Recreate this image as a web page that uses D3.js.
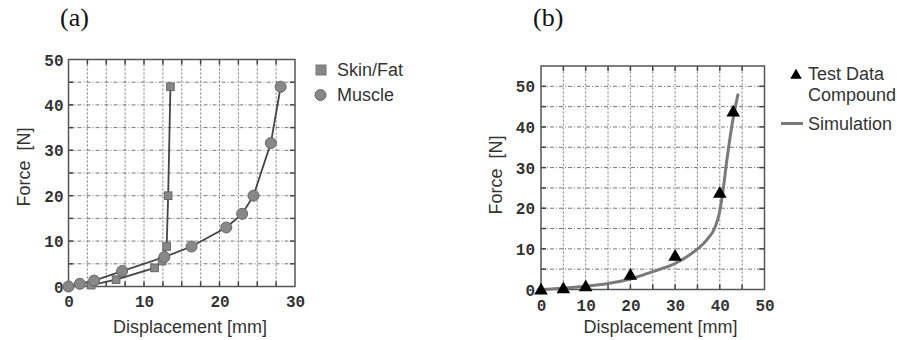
<!DOCTYPE html>
<html><head><meta charset="utf-8">
<script src="https://cdn.jsdelivr.net/npm/d3@7"></script>
<style>body{margin:0;background:#fff}svg{display:block}</style>
</head><body>
<svg id="c" width="897" height="340"></svg>
<script>
// Panel (a) data
const skinFat = [[3.0,0.3],[6.3,1.5],[11.4,4.1],[12.4,5.6],[13.0,8.8],[13.2,20],[13.5,44]];
const muscle = [[0,0],[1.5,0.6],[3.4,1.3],[7.1,3.4],[12.7,6.5],[16.3,8.8],[20.9,13],[23.0,16],[24.5,20],[26.8,31.6],[28.1,44]];
const aXTicks = [0,10,20,30];
const aYTicks = [0,10,20,30,40,50];
// Panel (b) data
const testData = [[0,0],[5,0.3],[10,0.8],[20,3.6],[30,8.3],[40,23.8],[43,43.8]];
const simulation = [[0,0],[5,0.3],[10,0.8],[15,1.5],[20,2.6],[25,4.4],[30,6.4],[34.8,9.8],[37.1,12.2],[39,15.5],[39.9,18.8],[40.5,22.6],[41.6,32],[42.7,40.3],[44.1,48.2]];
const bXTicks = [0,10,20,30,40,50];
const bYTicks = [0,10,20,30,40,50];

const svg = d3.select("#c");
const tickFont = "'Liberation Mono', 'DejaVu Sans Mono', monospace";
const sansFont = "'Liberation Sans', Arial, sans-serif";
const FS = 18;

function panel(opt){
  const g = svg.append("g");
  const x = d3.scaleLinear().domain(opt.xd).range(opt.xr);
  const y = d3.scaleLinear().domain(opt.yd).range(opt.yr);
  const xg = d3.range(opt.xd[0]+opt.xs, opt.xd[1]-1e-9, opt.xs);
  const yg = d3.range(opt.yd[0]+opt.ys, opt.yd[1]-1e-9, opt.ys);
  g.append("g").selectAll("line").data(xg).join("line")
    .attr("x1",d=>x(d)).attr("x2",d=>x(d)).attr("y1",opt.yr[0]).attr("y2",opt.yr[1])
    .attr("stroke","#777").attr("stroke-width",1).attr("stroke-dasharray","2,2");
  g.append("g").selectAll("line").data(yg).join("line")
    .attr("y1",d=>y(d)).attr("y2",d=>y(d)).attr("x1",opt.xr[0]).attr("x2",opt.xr[1])
    .attr("stroke","#777").attr("stroke-width",1).attr("stroke-dasharray","4,2,1,2");
  const tl = 5;
  const tk = g.append("g").attr("stroke","#444").attr("stroke-width",1.5);
  xg.forEach(d=>{
    tk.append("line").attr("x1",x(d)).attr("x2",x(d)).attr("y1",opt.yr[0]).attr("y2",opt.yr[0]-tl);
    tk.append("line").attr("x1",x(d)).attr("x2",x(d)).attr("y1",opt.yr[1]).attr("y2",opt.yr[1]+tl);
  });
  yg.forEach(d=>{
    tk.append("line").attr("y1",y(d)).attr("y2",y(d)).attr("x1",opt.xr[0]).attr("x2",opt.xr[0]+tl);
    tk.append("line").attr("y1",y(d)).attr("y2",y(d)).attr("x1",opt.xr[1]).attr("x2",opt.xr[1]-tl);
  });
  g.append("rect").attr("x",opt.xr[0]).attr("y",opt.yr[1])
    .attr("width",opt.xr[1]-opt.xr[0]).attr("height",opt.yr[0]-opt.yr[1])
    .attr("fill","none").attr("stroke","#555").attr("stroke-width",1.5);
  const xa = g.append("g").attr("transform",`translate(0,${opt.yr[0]})`)
    .call(d3.axisBottom(x).tickValues(opt.xt).tickSize(0).tickPadding(opt.xpad));
  const ya = g.append("g").attr("transform",`translate(${opt.xr[0]},0)`)
    .call(d3.axisLeft(y).tickValues(opt.yt).tickSize(0).tickPadding(opt.ypad));
  [xa,ya].forEach(a=>{
    a.select(".domain").remove();
    a.selectAll("text").attr("font-family",tickFont).attr("font-weight","bold")
      .attr("font-size",16).attr("fill","#333");
  });
  ya.selectAll("text").attr("dy","0.35em");
  g.append("text").attr("x",opt.xtx).attr("y",opt.xty).attr("text-anchor","middle")
    .attr("font-family",sansFont).attr("font-size",FS).attr("fill","#333").text("Displacement [mm]");
  g.append("text").attr("transform",`translate(${opt.ytx},${opt.yty}) rotate(-90)`)
    .attr("text-anchor","middle").attr("font-family",sansFont).attr("font-size",FS)
    .style("white-space","pre").attr("fill","#333").text("Force  [N]");
  g.append("text").attr("x",opt.lx).attr("y",26).attr("font-family","'Liberation Serif', 'Times New Roman', serif")
    .attr("font-size",26).attr("fill","#111").text(opt.label);
  return {g,x,y};
}

// Panel (a)
const A = panel({xd:[0,30], yd:[0,50], xr:[68.5,295], yr:[286.5,59.5], xs:2.5, ys:5,
  xt:aXTicks, yt:aYTicks, xpad:9, ypad:5, xtx:190, xty:333, ytx:30, yty:167, lx:60, label:"(a)"});
const lineA = d3.line().x(d=>A.x(d[0])).y(d=>A.y(d[1]));
A.g.append("path").datum(skinFat).attr("d",lineA).attr("fill","none").attr("stroke","#444").attr("stroke-width",1.8);
A.g.append("path").datum(muscle).attr("d",lineA).attr("fill","none").attr("stroke","#444").attr("stroke-width",1.8);
A.g.append("g").selectAll("rect").data(skinFat).join("rect")
  .attr("x",d=>A.x(d[0])-3.8).attr("y",d=>A.y(d[1])-3.8).attr("width",7.6).attr("height",7.6)
  .attr("fill","#888").attr("stroke","#666").attr("stroke-width",1);
A.g.append("g").selectAll("circle").data(muscle).join("circle")
  .attr("cx",d=>A.x(d[0])).attr("cy",d=>A.y(d[1])).attr("r",5.5)
  .attr("fill","#888").attr("stroke","#666").attr("stroke-width",1);
// legend (a)
svg.append("rect").attr("x",316).attr("y",65).attr("width",10).attr("height",10).attr("fill","#888").attr("stroke","#777");
svg.append("text").attr("x",337).attr("y",75.5).attr("font-family",sansFont).attr("font-size",FS).attr("fill","#333").text("Skin/Fat");
svg.append("circle").attr("cx",320.5).attr("cy",95).attr("r",5.5).attr("fill","#888").attr("stroke","#666");
svg.append("text").attr("x",337).attr("y",101).attr("font-family",sansFont).attr("font-size",FS).attr("fill","#333").text("Muscle");

// Panel (b)
const B = panel({xd:[0,50], yd:[0,55], xr:[541,764.5], yr:[289.5,66], xs:5, ys:5,
  xt:bXTicks, yt:bYTicks, xpad:10, ypad:6, xtx:660.5, xty:333, ytx:502, yty:175, lx:533, label:"(b)"});
const lineB = d3.line().curve(d3.curveMonotoneX).x(d=>B.x(d[0])).y(d=>B.y(d[1]));
B.g.append("path").datum(simulation).attr("d",lineB).attr("fill","none").attr("stroke","#7a7a7a").attr("stroke-width",3);
const tri = d3.symbol().type(d3.symbolTriangle).size(80);
B.g.append("g").selectAll("path").data(testData).join("path")
  .attr("transform",d=>`translate(${B.x(d[0])},${B.y(d[1])+1})`).attr("d",tri).attr("fill","#000");
// legend (b)
svg.append("path").attr("transform","translate(796,75.5)").attr("d",d3.symbol().type(d3.symbolTriangle).size(58)).attr("fill","#000");
svg.append("text").attr("x",808).attr("y",79.5).attr("font-family",sansFont).attr("font-size",FS).attr("fill","#333").text("Test Data");
svg.append("text").attr("x",808).attr("y",101).attr("font-family",sansFont).attr("font-size",FS).attr("fill","#333").text("Compound");
svg.append("line").attr("x1",781).attr("x2",803).attr("y1",123.5).attr("y2",123.5).attr("stroke","#7a7a7a").attr("stroke-width",3);
svg.append("text").attr("x",808).attr("y",130).attr("font-family",sansFont).attr("font-size",FS).attr("fill","#333").text("Simulation");
</script>
</body></html>
